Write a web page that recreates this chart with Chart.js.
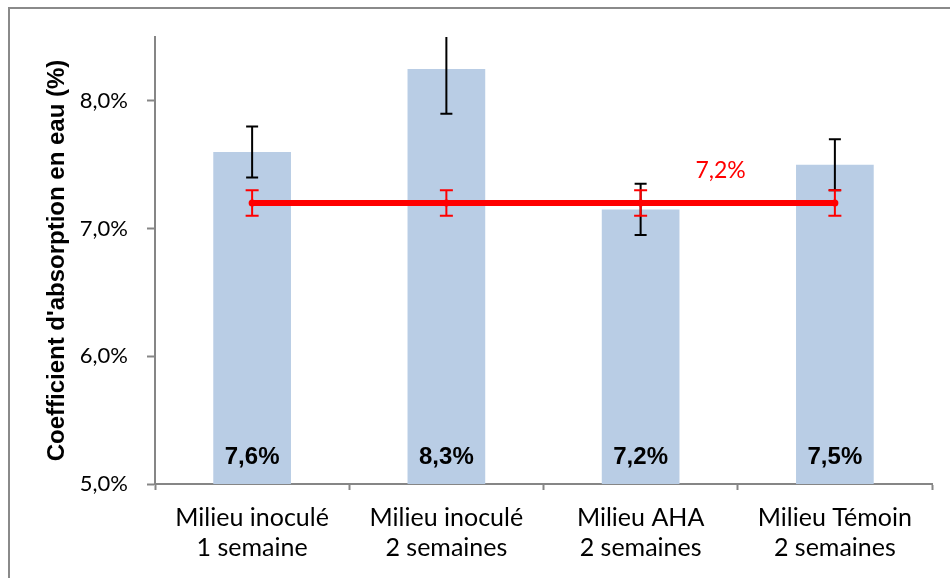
<!DOCTYPE html>
<html><head><meta charset="utf-8">
<script src="https://cdn.jsdelivr.net/npm/chart.js@4/dist/chart.umd.min.js"></script>
<style>
html,body{margin:0;padding:0;background:#fff;overflow:hidden;}
#wrap{position:relative;width:950px;height:578px;overflow:hidden;}
#frame{position:absolute;left:8px;top:7px;width:1000px;height:1000px;border-top:2px solid #8a8a8a;border-left:2px solid #8a8a8a;box-sizing:border-box;}
canvas{position:absolute;left:0;top:0;}
</style></head><body>
<div id="wrap"><div id="frame"></div><canvas id="c" width="950" height="578"></canvas></div>
<script>
const categories = [["Milieu inoculé","1 semaine"],["Milieu inoculé","2 semaines"],["Milieu AHA","2 semaines"],["Milieu Témoin","2 semaines"]];
const values = [7.6, 8.25, 7.15, 7.5];
const valueLabels = ["7,6%","8,3%","7,2%","7,5%"];
const errLow = [7.4, 7.9, 6.95, 7.3];
const errHigh = [7.8, 8.6, 7.35, 7.7];
const meanLine = [7.2, 7.2, 7.2, 7.2];
const meanLow = [7.1, 7.1, 7.1, 7.1];
const meanHigh = [7.3, 7.3, 7.3, 7.3];
const meanLabel = "7,2%";
const yTicks = [5, 6, 7, 8];
const yMin = 5, yMax = 8.5;
const yTitle = "Coefficient d'absorption en eau (%)";

function drawErr(ctx, x, y, lo, hi, color, width, cap){
  ctx.strokeStyle = color; ctx.lineWidth = width;
  lo.forEach((l,i)=>{
    const px = x.getPixelForValue(i);
    const y1 = y.getPixelForValue(l), y2 = y.getPixelForValue(hi[i]);
    ctx.beginPath();
    ctx.moveTo(px, y1); ctx.lineTo(px, y2);
    ctx.moveTo(px-cap, y1); ctx.lineTo(px+cap, y1);
    ctx.moveTo(px-cap, y2); ctx.lineTo(px+cap, y2);
    ctx.stroke();
  });
}

const overlay = {
  id:'overlay',
  afterDatasetDraw(chart, args){
    if (args.meta.type !== 'bar') return;
    const {ctx, chartArea:a, scales:{x,y}} = chart;
    ctx.save();
    ctx.beginPath(); ctx.rect(a.left, a.top, a.right-a.left, a.bottom-a.top); ctx.clip();
    drawErr(ctx, x, y, errLow, errHigh, '#000000', 2, 6);
    ctx.restore();
  },
  afterDatasetsDraw(chart){
    const {ctx, chartArea:a, scales:{x,y}} = chart;
    ctx.save();
    drawErr(ctx, x, y, meanLow, meanHigh, '#ff0000', 2, 6.5);
    ctx.fillStyle = '#000';
    ctx.textAlign = 'center';
    ctx.textBaseline = 'alphabetic';
    ctx.font = 'bold 24px "Liberation Sans", Arial, sans-serif';
    values.forEach((v,i)=> ctx.fillText(valueLabels[i], x.getPixelForValue(i), a.bottom - 20));
    ctx.font = '23px Lato, sans-serif';
    ctx.fillStyle = '#ff0000';
    ctx.fillText(meanLabel, x.getPixelForValue(2) + 80, y.getPixelForValue(meanLine[2]) - 25);
    ctx.fillStyle = '#000';
    ctx.font = 'bold 24px "Liberation Sans", Arial, sans-serif';
    ctx.translate(64, (a.top + a.bottom)/2);
    ctx.rotate(-Math.PI/2);
    ctx.fillText(yTitle, 0, 0);
    ctx.restore();
  }
};

function draw(){
  new Chart(document.getElementById('c'), {
    data:{
      labels: categories,
      datasets:[
        {type:'line', data: meanLine, borderColor:'#ff0000', borderWidth:6, pointRadius:3.5, pointBackgroundColor:'#ff0000', pointBorderWidth:0, order:0},
        {type:'bar', data: values, backgroundColor:'#b9cde5', barPercentage:0.4, categoryPercentage:1, order:1}
      ]
    },
    options:{
      responsive:false, animation:false,
      layout:{padding:{top:37, right:18, bottom:0, left:0}},
      plugins:{legend:{display:false}, tooltip:{enabled:false}},
      scales:{
        x:{
          offset:true,
          grid:{offset:true, drawOnChartArea:false, drawTicks:true, tickLength:6, tickColor:'#868686', tickWidth:2},
          border:{display:true, color:'#868686', width:2},
          ticks:{font:{family:'Lato', size:25, lineHeight:1.2}, color:'#000', padding:13, maxRotation:0, autoSkip:false},
          afterFit(s){ s.height = 94; }
        },
        y:{
          min:yMin, max:yMax,
          afterBuildTicks(s){ s.ticks = yTicks.map(v=>({value:v})); },
          grid:{drawOnChartArea:false, tickLength:8, tickColor:'#868686', tickWidth:2},
          border:{display:true, color:'#868686', width:2},
          ticks:{font:{family:'Lato', size:22}, color:'#000', padding:19, callback:v=>Number(v).toFixed(1).replace('.', ',') + '%'},
          afterFit(s){ s.width = 155; }
        }
      }
    },
    plugins:[overlay]
  });
}
Promise.all([
  document.fonts.load('22px Lato'),
  document.fonts.load('bold 24px "Liberation Sans"')
]).then(draw, draw);
</script>
</body></html>
